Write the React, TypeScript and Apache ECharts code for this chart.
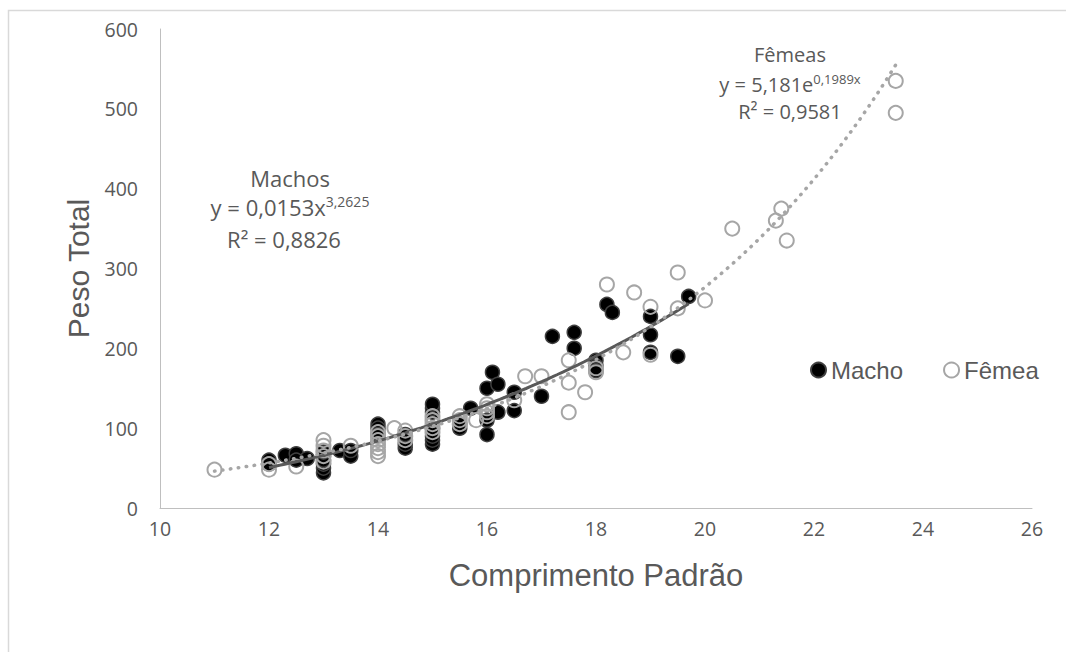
import React, { useEffect, useRef } from "react";
import * as echarts from "echarts";

const xTicks = [10, 12, 14, 16, 18, 20, 22, 24, 26];
const yTicks = [0, 100, 200, 300, 400, 500, 600];

const machoPoints: number[][] = [
  [12, 60], [12, 55], [12.3, 66], [12.5, 68], [12.5, 60], [12.7, 62],
  [13, 44], [13, 50], [13, 55], [13, 60], [13, 65], [13, 70],
  [13.3, 72], [13.5, 65], [13.5, 72],
  [14, 105], [14, 100], [14, 92],
  [14.5, 75], [14.5, 80], [14.5, 92],
  [15, 80], [15, 85], [15, 90], [15, 100], [15, 120], [15, 125], [15, 130],
  [15.5, 100], [15.5, 105], [15.7, 125],
  [16, 92], [16, 110], [16, 150], [16.1, 170], [16.2, 155], [16.2, 120],
  [16.5, 122], [16.5, 145], [17, 140], [17.2, 215], [17.6, 220], [17.6, 200],
  [18, 185], [18, 178], [18, 172], [18.2, 255], [18.3, 245],
  [19, 240], [19, 217], [19, 195], [19.5, 190], [19.7, 265],
];

const femeaPoints: number[][] = [
  [11, 48], [12, 48], [12, 55], [12.5, 52],
  [13, 58], [13, 65], [13, 72], [13, 78], [13, 85], [13.5, 78],
  [14, 65], [14, 70], [14, 75], [14, 80], [14, 85], [14, 90], [14, 95],
  [14.3, 100], [14.5, 85], [14.5, 90], [14.5, 97],
  [15, 95], [15, 100], [15, 105], [15, 110], [15, 115],
  [15.5, 105], [15.5, 110], [15.5, 115], [15.8, 110],
  [16, 115], [16, 120], [16, 125], [16, 130], [16.5, 135],
  [16.7, 165], [17, 165], [17.5, 185], [17.5, 157], [17.5, 120], [17.8, 145],
  [18, 175], [18, 170], [18.2, 280], [18.5, 195], [18.7, 270],
  [19, 252], [19, 192], [19.5, 295], [19.5, 250], [20, 260],
  [20.5, 350], [21.3, 360], [21.4, 375], [21.5, 335], [23.5, 535], [23.5, 495],
];

// Trendline equations shown on the chart
const machoPowerA = 0.0153;
const machoPowerB = 3.2625;
const machoRange = [12, 19.7];
const femeaExpA = 5.181;
const femeaExpB = 0.1989;
const femeaRange = [11, 23.5];

function buildCurve(range: number[], f: (x: number) => number): number[][] {
  const out: number[][] = [];
  const steps = 80;
  for (let i = 0; i <= steps; i++) {
    const x = range[0] + ((range[1] - range[0]) * i) / steps;
    out.push([x, f(x)]);
  }
  return out;
}

const AX = "#595959";
const TICK_FONT = "'Open Sans', 'Noto Sans', sans-serif";
const TITLE_FONT = "'Liberation Sans', Arial, sans-serif";

export default function App() {
  const ref = useRef<HTMLDivElement>(null);
  useEffect(() => {
    if (!ref.current) return;
    const chart = echarts.init(ref.current, undefined, { renderer: "svg" });
    const machoCurve = buildCurve(machoRange, (x) => machoPowerA * Math.pow(x, machoPowerB));
    const femeaCurve = buildCurve(femeaRange, (x) => femeaExpA * Math.exp(femeaExpB * x));

    const rich = (size: number, sup: number) => ({
      a: { fontSize: size, fontFamily: TICK_FONT, fill: AX, lineHeight: size + 4 },
      s: { fontSize: sup, fontFamily: TICK_FONT, fill: AX, verticalAlign: "top", lineHeight: size + 4 },
    });

    chart.setOption({
      animation: false,
      backgroundColor: "#ffffff",
      grid: { left: 160, right: 34, top: 29, bottom: 144, containLabel: false },
      xAxis: {
        type: "value",
        min: xTicks[0],
        max: xTicks[xTicks.length - 1],
        interval: 2,
        name: "Comprimento Padrão",
        nameLocation: "middle",
        nameGap: 52,
        nameTextStyle: { fontSize: 31, color: AX, fontFamily: TITLE_FONT },
        axisLine: { show: true, onZero: false, lineStyle: { color: "#bfbfbf", width: 1 } },
        axisTick: { show: false },
        axisLabel: { fontSize: 19.5, color: AX, fontFamily: TICK_FONT, margin: 10 },
        splitLine: { show: false },
      },
      yAxis: {
        type: "value",
        min: yTicks[0],
        max: yTicks[yTicks.length - 1],
        interval: 100,
        name: "Peso Total",
        nameLocation: "middle",
        nameGap: 62,
        nameTextStyle: { fontSize: 30, color: AX, fontFamily: TITLE_FONT },
        axisLine: { show: true, lineStyle: { color: "#bfbfbf", width: 1 } },
        axisTick: { show: false },
        axisLabel: { fontSize: 19.5, color: AX, fontFamily: TICK_FONT, margin: 22 },
        splitLine: { show: false },
      },
      legend: {
        data: ["Macho", "Fêmea"],
        left: 805,
        top: 353,
        orient: "horizontal",
        itemWidth: 15,
        itemHeight: 15,
        itemGap: 40,
        textStyle: { fontSize: 24, color: AX, fontFamily: TITLE_FONT },
      },
      series: [
        {
          name: "Macho",
          type: "scatter",
          data: machoPoints,
          symbol: "circle",
          symbolSize: 14,
          itemStyle: { color: "#000000", borderColor: "#404040", borderWidth: 1.5, opacity: 1 },
          z: 2,
        },
        {
          name: "Fêmea",
          type: "scatter",
          data: femeaPoints,
          symbol: "circle",
          symbolSize: 14,
          itemStyle: { color: "rgba(255,255,255,0)", borderColor: "#a6a6a6", borderWidth: 2, opacity: 1 },
          z: 3,
        },
        {
          name: "Tendência Machos",
          type: "line",
          data: machoCurve,
          showSymbol: false,
          smooth: false,
          lineStyle: { color: "#595959", width: 3 },
          z: 4,
          silent: true,
        },
        {
          name: "Tendência Fêmeas",
          type: "line",
          data: femeaCurve,
          showSymbol: false,
          lineStyle: { color: "#a6a6a6", width: 3.5, type: [0.5, 7.5], cap: "round" },
          z: 5,
          silent: true,
        },
      ],
      graphic: [
        {
          type: "rect",
          shape: { x: 8.5, y: 10.5, width: 1200, height: 800 },
          style: { fill: "none", stroke: "#d9d9d9", lineWidth: 1.5 },
          silent: true,
          z: -10,
        },
        {
          type: "text", x: 290, y: 178,
          style: { text: "Machos", fill: AX, font: `22px ${TICK_FONT}`, textAlign: "center", textVerticalAlign: "middle" },
        },
        {
          type: "text", x: 290, y: 207,
          style: { text: "{a|y = 0,0153x}{s|3,2625}", rich: rich(22, 14), textAlign: "center", textVerticalAlign: "middle" },
        },
        {
          type: "text", x: 284, y: 239,
          style: { text: "R² = 0,8826", fill: AX, font: `22px ${TICK_FONT}`, textAlign: "center", textVerticalAlign: "middle" },
        },
        {
          type: "text", x: 790, y: 54,
          style: { text: "Fêmeas", fill: AX, font: `20px ${TICK_FONT}`, textAlign: "center", textVerticalAlign: "middle" },
        },
        {
          type: "text", x: 790, y: 84,
          style: { text: "{a|y = 5,181e}{s|0,1989x}", rich: rich(20, 13), textAlign: "center", textVerticalAlign: "middle" },
        },
        {
          type: "text", x: 790, y: 111,
          style: { text: "R² = 0,9581", fill: AX, font: `20px ${TICK_FONT}`, textAlign: "center", textVerticalAlign: "middle" },
        },
      ],
    });
    return () => chart.dispose();
  }, []);
  return <div ref={ref} style={{ position: "absolute", left: 0, top: 0, width: 1066, height: 652 }} />;
}
